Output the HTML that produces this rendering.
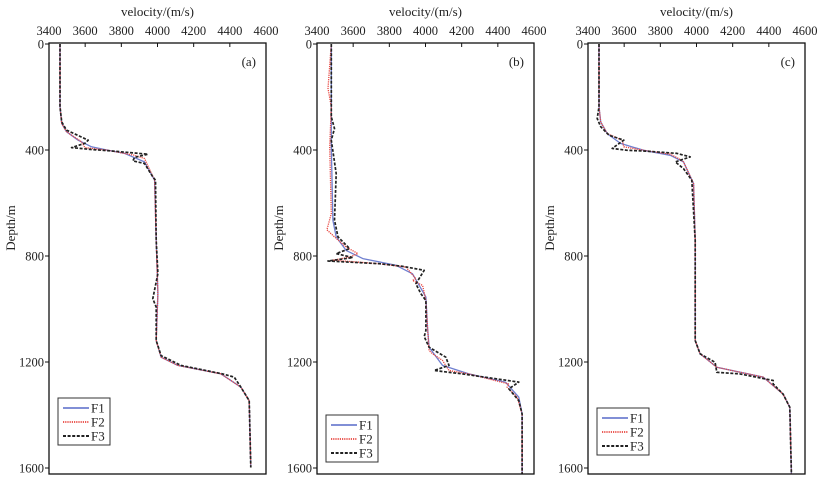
<!DOCTYPE html>
<html><head><meta charset="utf-8">
<style>
body{margin:0;background:#fff;}
svg{display:block;font-family:"Liberation Serif",serif;}
</style></head>
<body>
<svg id="chart" width="822" height="485" viewBox="0 0 822 485"></svg>
<script>
// Panel (a)
const aF1V=[3461,3461,3470,3497,3561,3635,3727,3818,3928,3984,3993,4002,3993,4020,4112,4351,4461,4507,4516];
const aF1D=[0,237,300,331,363,388,401,413,445,514,741,942,1119,1182,1213,1245,1295,1346,1598];
const aF2V=[3461,3461,3470,3497,3580,3598,3727,3873,3928,3984,3993,4002,3993,4020,4112,4351,4461,4507,4516];
const aF2D=[0,237,300,331,369,391,401,420,432,514,741,942,1119,1182,1213,1245,1295,1346,1598];
const aF3V=[3461,3461,3470,3497,3617,3598,3525,3635,3736,3947,3873,3864,3928,3974,3989,3993,4002,3974,3993,3993,4020,4130,4360,4424,4461,4507,4516];
const aF3D=[0,237,294,325,363,375,391,398,403,416,428,441,451,501,514,741,866,961,993,1119,1176,1213,1245,1257,1295,1346,1598];
// Panel (b)
const bF1V=[3479,3479,3488,3506,3561,3653,3837,3928,4002,4011,4020,4094,4240,4442,4516,4534,4534];
const bF1D=[0,388,665,728,779,810,835,867,955,1068,1144,1213,1245,1276,1333,1396,1623];
const bF2V=[3479,3461,3479,3470,3479,3455,3497,3561,3626,3580,3488,3745,3892,3947,3928,3984,4002,4011,4020,4039,4094,4130,4240,4461,4451,4507,4534,4534];
const bF2D=[0,168,237,388,640,701,728,766,791,804,816,829,842,886,892,911,968,1068,1157,1169,1194,1232,1245,1283,1295,1333,1396,1623];
const bF3V=[3479,3479,3497,3479,3506,3497,3516,3580,3506,3598,3461,3745,3873,3993,3947,3974,4002,4002,3993,4020,4112,4130,4048,4204,4516,4461,4516,4534,4534];
const bF3D=[0,275,319,363,489,665,728,772,791,806,819,829,839,854,905,942,968,1081,1104,1144,1182,1213,1232,1245,1276,1301,1346,1396,1623];
// Panel (c)
const cF1V=[3461,3461,3470,3506,3580,3708,3855,3928,3984,3993,3993,4020,4112,4369,4479,4516,4525];
const cF1D=[0,237,294,338,375,401,420,445,527,741,1119,1169,1220,1257,1321,1371,1623];
const cF2V=[3461,3461,3470,3506,3589,3598,3708,3855,3901,3928,3984,3993,3993,4020,4112,4369,4479,4516,4525];
const cF2D=[0,237,294,338,363,388,401,416,432,445,527,741,1119,1169,1220,1257,1321,1371,1623];
const cF3V=[3461,3461,3451,3470,3516,3598,3534,3617,3717,3892,3965,3883,3928,3974,3993,3993,4020,4103,4112,4240,4424,4424,4479,4516,4525];
const cF3D=[0,237,281,312,344,363,394,401,404,413,426,445,470,514,741,1119,1169,1201,1239,1245,1270,1283,1321,1371,1623];

const velTicks=[3400,3600,3800,4000,4200,4400,4600];
const depthTicks=[0,400,800,1200,1600];
const panelLabels=["(a)","(b)","(c)"];
const seriesNames=["F1","F2","F3"];

const NS="http://www.w3.org/2000/svg";
const svg=document.getElementById('chart');
const W=217, TOP=43, BOT=474, Y0=44, Y1600=468;
const lefts=[49,317,588];
const styles=[
 {stroke:"#6f7fd0",w:1.3,dash:""},
 {stroke:"#e8453f",w:1.3,dash:"1.2,1"},
 {stroke:"#222",w:1.7,dash:"3,1.6"}
];
function mk(tag,attrs,parent){const e=document.createElementNS(NS,tag);for(const k in attrs)e.setAttribute(k,attrs[k]);(parent||svg).appendChild(e);return e;}
const panels=[[aF1V,aF1D,aF2V,aF2D,aF3V,aF3D],[bF1V,bF1D,bF2V,bF2D,bF3V,bF3D],[cF1V,cF1D,cF2V,cF2D,cF3V,cF3D]];
const legendPos=[[58,398],[326,415],[597,408]];

panels.forEach((p,i)=>{
 const L=lefts[i];
 const xs=v=>L+(v-3400)/1200*W;
 const ys=d=>Y0+d/1600*(Y1600-Y0);
 const g=mk('g',{});
 
 
 // series
 for(let s=0;s<3;s++){
  const V=p[s*2],D=p[s*2+1];
  const pts=V.map((v,k)=>xs(v).toFixed(1)+","+ys(D[k]).toFixed(1)).join(" ");
  const pl=mk('polyline',{points:pts,fill:"none",stroke:styles[s].stroke,"stroke-width":styles[s].w,"stroke-dasharray":styles[s].dash,"stroke-linejoin":"round"},g);
  
  
 }
 // frame
 const fr=mk('rect',{x:L,y:TOP,width:W,height:BOT-TOP,fill:"none",stroke:"#111","stroke-width":1.3},g);
 
 
 // x ticks
 velTicks.forEach(v=>{
  const x=xs(v);
  if(v>3400&&v<4600){const t=mk('line',{x1:x,x2:x,y1:TOP,y2:TOP+4,stroke:"#111","stroke-width":1},g);
   
   }
  const tl=mk('text',{x:x,y:35,"text-anchor":"middle","font-size":"12.5",fill:"#222"},g);
  tl.textContent=v;
  
  
 });
 const xt=mk('text',{x:L+W/2,y:16,"text-anchor":"middle","font-size":"13",fill:"#222"},g);
 xt.textContent="velocity/(m/s)";
 
 
 // y ticks
 depthTicks.forEach(d=>{
  const y=ys(d);
  const t=mk('line',{x1:L-4,x2:L,y1:y,y2:y,stroke:"#111","stroke-width":1},g);
  
  
  const tl=mk('text',{x:L-5,y:y+4.5,"text-anchor":"end","font-size":"12.5",fill:"#222"},g);
  tl.textContent=d;
  
  
 });
 const yt=mk('text',{x:0,y:0,"text-anchor":"middle","font-size":"13",fill:"#222",transform:`translate(${L-34},228) rotate(-90)`},g);
 yt.textContent="Depth/m";
 
 
 const pl=mk('text',{x:L+W-10,y:66,"text-anchor":"end","font-size":"13",fill:"#222"},g);
 pl.textContent=panelLabels[i];
 
 
 // legend
 const [lx,ly]=legendPos[i];
 const lg=mk('g',{},g);
 
 
 mk('rect',{x:lx,y:ly,width:52,height:47,fill:"#fff",stroke:"#333","stroke-width":1},lg);
 for(let s=0;s<3;s++){
  const yy=ly+10+s*14;
  const e=mk('g',{},lg);
  
  
  mk('line',{x1:lx+5,x2:lx+31,y1:yy,y2:yy,stroke:styles[s].stroke,"stroke-width":styles[s].w+0.4,"stroke-dasharray":styles[s].dash},e);
  const t=mk('text',{x:lx+33,y:yy+4.5,"font-size":"13",fill:"#222"},e);
  t.textContent=seriesNames[s];
 }
});
</script>
</body></html>
